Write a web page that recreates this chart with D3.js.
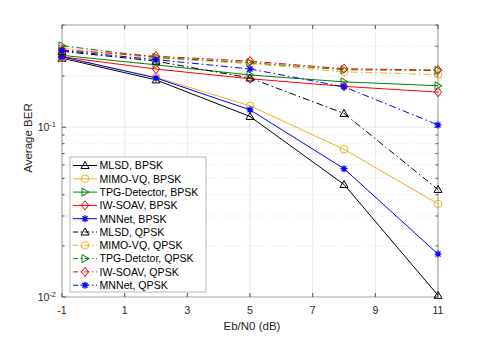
<!DOCTYPE html>
<html><head><meta charset="utf-8">
<script src="https://cdn.jsdelivr.net/npm/d3@7"></script>
<style>body{margin:0;background:#fff}svg{display:block}text{font-family:"Liberation Sans",Arial,sans-serif}</style>
</head><body>
<svg id="c" width="485" height="337"></svg>
<script>
const snr = [-1, 2, 5, 8, 11];
const xTicks = [-1, 1, 3, 5, 7, 9, 11];
const mlsdB   = [0.255, 0.190, 0.1157, 0.0460, 0.01023];
const vqB     = [0.258, 0.197, 0.1337, 0.0741, 0.0354];
const tpgB    = [0.265, 0.233, 0.203, 0.1850, 0.1755];
const iwB     = [0.260, 0.220, 0.1930, 0.1740, 0.1610];
const mnB     = [0.260, 0.195, 0.1266, 0.0570, 0.0179];
const mlsdQ   = [0.280, 0.245, 0.1950, 0.1206, 0.0430];
const vqQ     = [0.292, 0.255, 0.2370, 0.2118, 0.2040];
const tpgQ    = [0.302, 0.258, 0.2400, 0.2180, 0.2160];
const iwQ     = [0.285, 0.262, 0.2450, 0.2212, 0.2170];
const mnQ     = [0.283, 0.250, 0.2204, 0.1730, 0.1032];
const names = ["MLSD, BPSK","MIMO-VQ, BPSK","TPG-Detector, BPSK","IW-SOAV, BPSK","MNNet, BPSK",
               "MLSD, QPSK","MIMO-VQ, QPSK","TPG-Detctor, QPSK","IW-SOAV, QPSK","MNNet, QPSK"];
const seriesVals = [mlsdB, vqB, tpgB, iwB, mnB, mlsdQ, vqQ, tpgQ, iwQ, mnQ];
const colors = ["#000000","#EDB120","#008000","#FF0000","#0000FF"];
const markers = ["tri","circle","right","diamond","star"];

const svg = d3.select("#c");
const L = 62, R = 438, T = 25, B = 297;
const x = d3.scaleLinear().domain([-1, 11]).range([L, R]);
const y = d3.scaleLog().domain([0.01, 0.4]).range([B, T]);

// grid
const g = svg.append("g");
xTicks.forEach(t => g.append("line").attr("x1", x(t)).attr("x2", x(t)).attr("y1", T).attr("y2", B)
  .attr("stroke", "#e3e3e3").attr("stroke-width", 0.8));
const minors = [];
[0.01, 0.1].forEach(d => { for (let k = 2; k <= 9; k++) { const v = d * k; if (v <= 0.4) minors.push(v); } });
minors.forEach(v => g.append("line").attr("x1", L).attr("x2", R).attr("y1", y(v)).attr("y2", y(v))
  .attr("stroke", "#dcdcdc").attr("stroke-width", 0.8).attr("stroke-dasharray", "1,2"));
g.append("line").attr("x1", L).attr("x2", R).attr("y1", y(0.1)).attr("y2", y(0.1))
  .attr("stroke", "#e3e3e3").attr("stroke-width", 0.8);

// axes box
svg.append("rect").attr("x", L).attr("y", T).attr("width", R - L).attr("height", B - T)
  .attr("fill", "none").attr("stroke", "#8c8c8c").attr("stroke-width", 0.8);
// ticks
xTicks.forEach(t => {
  svg.append("line").attr("x1", x(t)).attr("x2", x(t)).attr("y1", B).attr("y2", B - 4).attr("stroke", "#555");
  svg.append("line").attr("x1", x(t)).attr("x2", x(t)).attr("y1", T).attr("y2", T + 4).attr("stroke", "#555");
  svg.append("text").attr("x", x(t)).attr("y", 314).attr("text-anchor", "middle")
    .attr("font-size", 10.5).attr("fill", "#262626").text(t);
});
minors.concat([0.01, 0.1]).forEach(v => {
  const len = (v === 0.01 || v === 0.1) ? 4 : 2.5;
  svg.append("line").attr("x1", L).attr("x2", L + len).attr("y1", y(v)).attr("y2", y(v)).attr("stroke", "#555");
  svg.append("line").attr("x1", R).attr("x2", R - len).attr("y1", y(v)).attr("y2", y(v)).attr("stroke", "#555");
});
[[0.01, "-2"], [0.1, "-1"]].forEach(([v, e]) => {
  const t = svg.append("text").attr("x", 56).attr("y", y(v) + 4).attr("text-anchor", "end")
    .attr("font-size", 10.5).attr("fill", "#262626");
  t.append("tspan").text("10");
  t.append("tspan").attr("dy", -4).attr("font-size", 7.5).text(e);
});
svg.append("text").attr("x", 252).attr("y", 330).attr("text-anchor", "middle")
  .attr("font-size", 11.5).attr("fill", "#262626").text("Eb/N0 (dB)");
svg.append("text").attr("transform", "translate(32,138) rotate(-90)").attr("text-anchor", "middle")
  .attr("font-size", 11.5).attr("fill", "#262626").text("Average BER");

function drawMarker(sel, type, cx, cy, col) {
  const s = 4;
  if (type === "tri") sel.append("path").attr("d", `M${cx},${cy - s}L${cx + s},${cy + s * 0.75}L${cx - s},${cy + s * 0.75}Z`)
    .attr("fill", "none").attr("stroke", col).attr("stroke-width", 1);
  else if (type === "circle") sel.append("circle").attr("cx", cx).attr("cy", cy).attr("r", 3.8)
    .attr("fill", "none").attr("stroke", col).attr("stroke-width", 1);
  else if (type === "right") sel.append("path").attr("d", `M${cx + s},${cy}L${cx - s * 0.75},${cy - s}L${cx - s * 0.75},${cy + s}Z`)
    .attr("fill", "none").attr("stroke", col).attr("stroke-width", 1);
  else if (type === "diamond") sel.append("path").attr("d", `M${cx},${cy - 4.6}L${cx + 3.6},${cy}L${cx},${cy + 4.6}L${cx - 3.6},${cy}Z`)
    .attr("fill", "none").attr("stroke", col).attr("stroke-width", 1);
  else if (type === "star") {
    const r = 3.5, d = r * 0.72;
    sel.append("path").attr("d", `M${cx - r},${cy}L${cx + r},${cy}M${cx},${cy - r}L${cx},${cy + r}M${cx - d},${cy - d}L${cx + d},${cy + d}M${cx - d},${cy + d}L${cx + d},${cy - d}`)
      .attr("stroke", col).attr("stroke-width", 1.3);
  }
}

const line = d3.line().x((d, i) => x(snr[i])).y(d => y(d));
const plot = svg.append("g");
seriesVals.forEach((vals, k) => {
  const ci = k % 5, dashed = k >= 5;
  plot.append("path").datum(vals).attr("d", line).attr("fill", "none").attr("stroke", colors[ci])
    .attr("stroke-width", 1).attr("stroke-dasharray", dashed ? "7,3,1.5,3" : null);
  vals.forEach((v, i) => drawMarker(plot, markers[ci], x(snr[i]), y(v), colors[ci]));
});

// legend
const lg = svg.append("g");
lg.append("rect").attr("x", 70).attr("y", 157).attr("width", 136).attr("height", 135)
  .attr("fill", "#fff").attr("stroke", "#a6a6a6").attr("stroke-width", 0.8);
names.forEach((n, k) => {
  const ci = k % 5, yy = 165.5 + k * 13.3;
  lg.append("line").attr("x1", 73).attr("x2", 97).attr("y1", yy).attr("y2", yy).attr("stroke", colors[ci])
    .attr("stroke-width", 1).attr("stroke-dasharray", k >= 5 ? "5,2.5,1.5,2.5" : null);
  drawMarker(lg, markers[ci], 85, yy, colors[ci]);
  lg.append("text").attr("x", 99.5).attr("y", yy + 3.8).attr("font-size", 10.6).attr("fill", "#000").text(n);
});
</script>
</body></html>
